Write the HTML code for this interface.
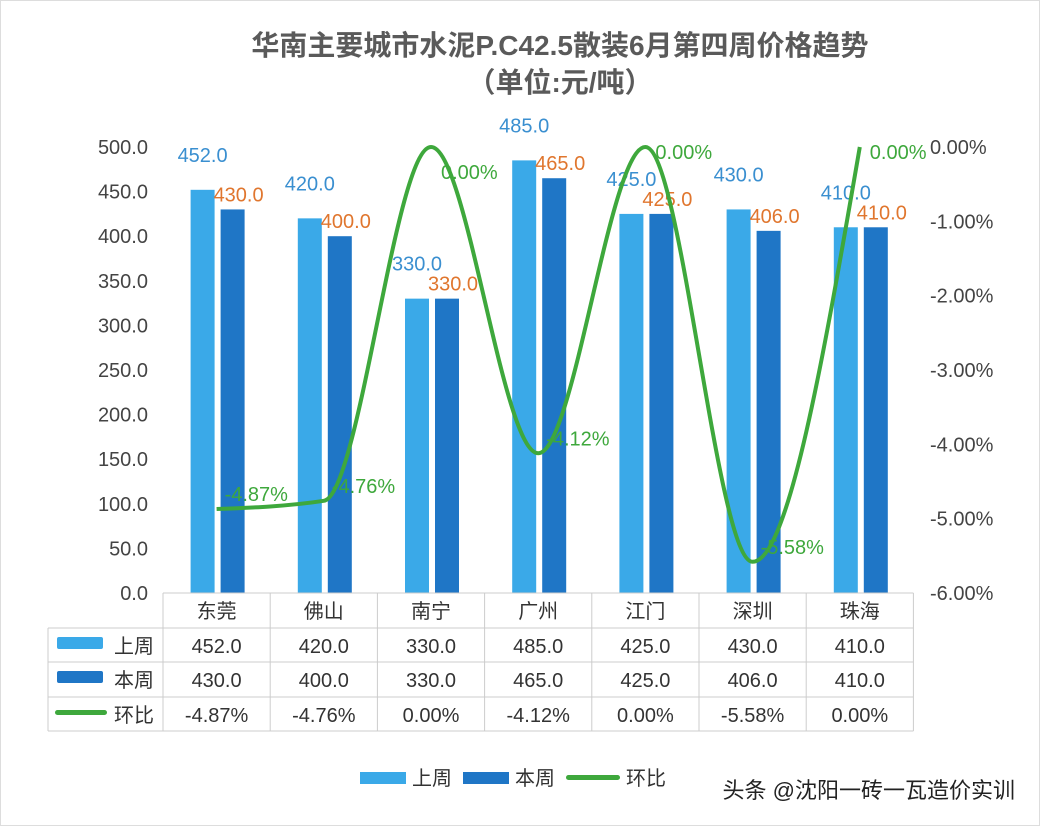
<!DOCTYPE html>
<html><head><meta charset="utf-8"><style>
body{margin:0;background:#fff}
svg{display:block;font-family:"Liberation Sans","Noto Sans CJK SC",sans-serif}
</style></head><body>
<svg id="c" width="1040" height="826" viewBox="0 0 1040 826">
<rect x="0.5" y="0.5" width="1039" height="825" fill="#fff" stroke="#ddd"/>
<text x="560" y="55" text-anchor="middle" font-size="28" font-weight="bold" fill="#5a5a5a">华南主要城市水泥P.C42.5散装6月第四周价格趋势</text>
<text x="560" y="92" text-anchor="middle" font-size="28" font-weight="bold" fill="#5a5a5a">（单位:元/吨）</text>
<g id="g"></g>
<text x="1015" y="798" text-anchor="end" font-size="22" fill="#222">头条 @沈阳一砖一瓦造价实训</text>
</svg>
<script>
const categories=["东莞","佛山","南宁","广州","江门","深圳","珠海"];
const lastWeek=[452,420,330,485,425,430,410];
const thisWeek=[430,400,330,465,425,406,410];
const changePct=[-4.87,-4.76,0.00,-4.12,0.00,-5.58,0.00];
const leftTicks=[0,50,100,150,200,250,300,350,400,450,500];
const rightTicks=[0,-1,-2,-3,-4,-5,-6];
const NS="http://www.w3.org/2000/svg",g=document.getElementById('g');
const X0=163,CW=107.2,Y0=593,YT=147;
const yL=v=>Y0-(v/500)*(Y0-YT);
const yR=v=>YT+(-v/6)*(Y0-YT);
const cx=i=>X0+CW*(i+0.5);
function el(t,a,txt){const e=document.createElementNS(NS,t);for(const k in a)e.setAttribute(k,a[k]);if(txt!==undefined)e.textContent=txt;g.appendChild(e);return e;}
leftTicks.forEach(v=>{const e=el('text',{x:148,y:yL(v)+7,'text-anchor':'end','font-size':20,fill:'#444'},v.toFixed(1));

});
rightTicks.forEach(v=>{const e=el('text',{x:930,y:yR(v)+7,'font-size':20,fill:'#444'},v.toFixed(2)+'%');

});
categories.forEach((c,i)=>{
 const b1=el('rect',{x:cx(i)-26,y:yL(lastWeek[i]),width:24,height:Y0-yL(lastWeek[i]),fill:'#3aa9e8'});
 
 
 const b2=el('rect',{x:cx(i)+4,y:yL(thisWeek[i]),width:24,height:Y0-yL(thisWeek[i]),fill:'#1f76c6'});
 
 
 const l1=el('text',{x:cx(i)-14,y:yL(lastWeek[i])-28,'text-anchor':'middle','font-size':20,fill:'#3a8fd0'},lastWeek[i].toFixed(1));
 
 
 const l2=el('text',{x:cx(i)+22,y:yL(thisWeek[i])-8,'text-anchor':'middle','font-size':20,fill:'#e0762e'},thisWeek[i].toFixed(1));
 
 
});
// monotone cubic line
const pts=changePct.map((v,i)=>[cx(i),yR(v)]);
const n=pts.length,h=CW,sec=[],m=[];
for(let i=0;i<n-1;i++)sec.push((pts[i+1][1]-pts[i][1])/h);
for(let i=1;i<n-1;i++){const s0=sec[i-1],s1=sec[i];const p=(s0+s1)/2;m[i]=(Math.sign(s0)+Math.sign(s1))*Math.min(Math.abs(s0),Math.abs(s1),0.5*Math.abs(p));}
m[0]=(3*sec[0]-m[1])/2;m[n-1]=(3*sec[n-2]-m[n-2])/2;
let d='M'+pts[0][0]+','+pts[0][1];
for(let i=0;i<n-1;i++){d+=` C${pts[i][0]+h/3},${pts[i][1]+m[i]*h/3} ${pts[i+1][0]-h/3},${pts[i+1][1]-m[i+1]*h/3} ${pts[i+1][0]},${pts[i+1][1]}`;}
const ln=el('path',{d:d,fill:'none',stroke:'#3ea83c','stroke-width':4});


changePct.forEach((v,i)=>{const e=el('text',{x:cx(i)+(v===0?10:8),y:yR(v)-(v===0?-32:8)+(v===0&&i>2?-20:0),'font-size':20,fill:'#3ea83c'},v.toFixed(2)+'%');

});
// table
const rows=[['上周','#3aa9e8',lastWeek.map(v=>v.toFixed(1))],['本周','#1f76c6',thisWeek.map(v=>v.toFixed(1))],['环比','#3ea83c',changePct.map(v=>v.toFixed(2)+'%')]];
const RY=[593,628,662,697,731];
el('line',{x1:X0,y1:593,x2:X0+CW*7,y2:593,stroke:'#ccc'});
for(let r=1;r<5;r++)el('line',{x1:48,y1:RY[r],x2:X0+CW*7,y2:RY[r],stroke:'#ccc'});
el('line',{x1:48,y1:628,x2:48,y2:731,stroke:'#ccc'});
for(let i=0;i<=7;i++)el('line',{x1:X0+CW*i,y1:593,x2:X0+CW*i,y2:731,stroke:'#ccc'});
categories.forEach((c,i)=>{const e=el('text',{x:cx(i),y:618,'text-anchor':'middle','font-size':20,fill:'#333'},c);

});
rows.forEach((r,ri)=>{const y=RY[ri+1]+25;
 if(ri<2)el('rect',{x:57,y:y-16,width:46,height:12,fill:r[1],rx:2});else el('rect',{x:55,y:y-12,width:52,height:5,fill:r[1],rx:2.5});
 const hh=el('text',{x:114,y:y,'font-size':20,fill:'#333'},r[0]);
 
 
 r[2].forEach((v,i)=>{const e=el('text',{x:cx(i),y:y,'text-anchor':'middle','font-size':20,fill:'#333'},v);
 
 });
});
// legend
[['上周','#3aa9e8',360],['本周','#1f76c6',463]].forEach(l=>{el('rect',{x:l[2],y:772,width:46,height:12,fill:l[1]});
 const e=el('text',{x:l[2]+52,y:785,'font-size':20,fill:'#333'},l[0]);
 
 });
el('rect',{x:566,y:775,width:54,height:5,fill:'#3ea83c',rx:2.5});
const le=el('text',{x:626,y:785,'font-size':20,fill:'#333'},'环比');


</script>
</body></html>
